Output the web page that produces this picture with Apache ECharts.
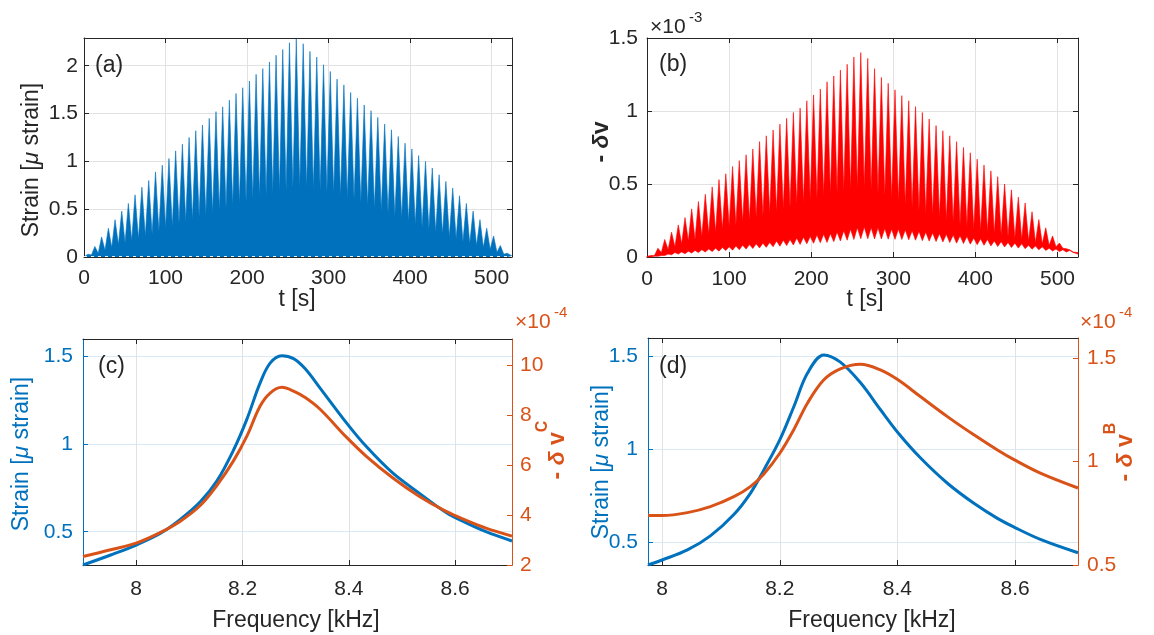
<!DOCTYPE html>
<html>
<head>
<meta charset="utf-8">
<script src="https://cdn.jsdelivr.net/npm/echarts@6/dist/echarts.min.js"></script>
<style>
  html, body { margin: 0; padding: 0; background: #ffffff; }
  #chart { width: 1154px; height: 635px; }
</style>
</head>
<body>
<div id="chart"></div>
<script>
// ---- data ----

// times of the strain / velocity pulses (s), shared by (a) and (b)
const tPeaks = [4.9, 13.3, 21.6, 29.9, 38.1, 46.3, 54.4, 62.6, 71.0, 79.4,
  87.7, 96.0, 104.2, 112.4, 120.7, 128.9, 137.1, 145.3, 153.6, 161.9,
  170.1, 178.3, 186.5, 194.7, 202.9, 211.1, 219.3, 227.5, 235.6, 243.8,
  252.0, 260.4, 268.9, 277.2, 285.5, 293.8, 302.1, 310.4, 318.8, 327.1,
  335.4, 343.7, 352.1, 360.4, 368.8, 377.1, 385.5, 393.8, 402.2, 410.5,
  418.9, 427.2, 435.6, 443.9, 452.3, 460.6, 469.0, 477.3, 485.7, 494.0,
  502.4, 510.7, 519.1];

// (a) strain peak heights and the level between two peaks [micro strain]
const aPeaks = [0.03, 0.11, 0.21, 0.30, 0.39, 0.48, 0.56, 0.65, 0.73, 0.80,
  0.89, 0.96, 1.03, 1.11, 1.18, 1.25, 1.32, 1.38, 1.45, 1.52,
  1.57, 1.64, 1.71, 1.77, 1.84, 1.91, 1.97, 2.04, 2.11, 2.17,
  2.24, 2.28, 2.23, 2.15, 2.09, 2.01, 1.94, 1.86, 1.80, 1.72,
  1.66, 1.59, 1.53, 1.46, 1.39, 1.33, 1.26, 1.19, 1.13, 1.06,
  1.00, 0.93, 0.86, 0.79, 0.72, 0.64, 0.56, 0.48, 0.39, 0.30,
  0.22, 0.12, 0.04];
const aTroughs = [0.02, 0.04, 0.07, 0.10, 0.13, 0.15, 0.17, 0.19, 0.22, 0.24,
  0.27, 0.30, 0.32, 0.35, 0.37, 0.39, 0.42, 0.44, 0.46, 0.49,
  0.51, 0.54, 0.56, 0.58, 0.61, 0.63, 0.65, 0.67, 0.69, 0.70,
  0.72, 0.73, 0.72, 0.71, 0.70, 0.68, 0.66, 0.64, 0.62, 0.60,
  0.57, 0.54, 0.51, 0.48, 0.46, 0.43, 0.40, 0.37, 0.34, 0.31,
  0.29, 0.26, 0.24, 0.21, 0.19, 0.16, 0.14, 0.12, 0.10, 0.08,
  0.05, 0.03];

// (b) -dv  (x 1e-3): top of band at peaks / between peaks, bottom of band at peaks / between peaks
const bPeaks = [0.01, 0.06, 0.12, 0.17, 0.22, 0.27, 0.33, 0.38, 0.43, 0.48,
  0.53, 0.57, 0.62, 0.66, 0.70, 0.74, 0.79, 0.83, 0.87, 0.91,
  0.95, 0.99, 1.02, 1.07, 1.11, 1.15, 1.20, 1.24, 1.28, 1.32,
  1.37, 1.40, 1.36, 1.29, 1.23, 1.19, 1.145, 1.105, 1.07, 1.03,
  0.99, 0.945, 0.90, 0.865, 0.83, 0.79, 0.75, 0.714, 0.67, 0.63,
  0.59, 0.55, 0.50, 0.46, 0.41, 0.37, 0.31, 0.256, 0.20, 0.144,
  0.096, 0.057, 0.034];
const bTroughs = [0.01, 0.03, 0.05, 0.07, 0.09, 0.11, 0.12, 0.14, 0.16, 0.17,
  0.19, 0.21, 0.22, 0.24, 0.25, 0.27, 0.28, 0.30, 0.31, 0.33,
  0.34, 0.36, 0.37, 0.39, 0.40, 0.42, 0.43, 0.44, 0.45, 0.46,
  0.47, 0.48, 0.46, 0.44, 0.42, 0.40, 0.38, 0.36, 0.34, 0.32,
  0.30, 0.29, 0.27, 0.25, 0.24, 0.22, 0.21, 0.19, 0.18, 0.17,
  0.16, 0.15, 0.14, 0.13, 0.12, 0.11, 0.10, 0.09, 0.08, 0.07,
  0.06, 0.05];
const bLowPeaks = [0.0, 0.005, 0.01, 0.015, 0.02, 0.023, 0.027, 0.03, 0.034, 0.037,
  0.04, 0.044, 0.047, 0.05, 0.054, 0.058, 0.062, 0.066, 0.07, 0.074,
  0.078, 0.082, 0.086, 0.09, 0.094, 0.098, 0.10, 0.105, 0.11, 0.115,
  0.12, 0.125, 0.125, 0.124, 0.123, 0.122, 0.121, 0.12, 0.118, 0.115,
  0.112, 0.109, 0.106, 0.103, 0.099, 0.095, 0.092, 0.088, 0.084, 0.08,
  0.076, 0.072, 0.068, 0.065, 0.061, 0.057, 0.053, 0.049, 0.045, 0.041,
  0.037, 0.034, 0.031];
const bLowMids = [0.005, 0.01, 0.02, 0.03, 0.035, 0.04, 0.045, 0.05, 0.055, 0.06,
  0.065, 0.07, 0.075, 0.08, 0.085, 0.09, 0.095, 0.10, 0.11, 0.115,
  0.12, 0.13, 0.135, 0.14, 0.15, 0.155, 0.16, 0.17, 0.18, 0.19,
  0.20, 0.205, 0.20, 0.20, 0.195, 0.19, 0.19, 0.185, 0.18, 0.175,
  0.17, 0.165, 0.16, 0.155, 0.15, 0.145, 0.14, 0.13, 0.125, 0.12,
  0.11, 0.105, 0.10, 0.095, 0.09, 0.08, 0.075, 0.07, 0.06, 0.055,
  0.05, 0.045];

// (c) frequency sweep, strain [micro strain] and -dv^C (x 1e-4)
const cFreq = [7.9, 7.952, 8.0, 8.046, 8.083, 8.121, 8.152, 8.183, 8.208, 8.233,
  8.252, 8.274, 8.296, 8.318, 8.346, 8.396, 8.433, 8.483, 8.533, 8.583,
  8.621, 8.658, 8.707];
const cStrain = [0.31, 0.367, 0.424, 0.491, 0.57, 0.672, 0.79, 0.965, 1.14, 1.348,
  1.462, 1.504, 1.488, 1.43, 1.32, 1.12, 0.986, 0.834, 0.719, 0.61,
  0.55, 0.5, 0.447];
const cNu = [2.34, 2.61, 2.88, 3.31, 3.76, 4.40, 5.20, 6.18, 7.16, 8.37,
  8.90, 9.13, 8.98, 8.72, 8.25, 7.12, 6.36, 5.49, 4.75, 4.15,
  3.79, 3.48, 3.16];

// (d) frequency sweep, strain [micro strain] and -dv^B (x 1e-4)
const dFreq = [7.976, 8.0, 8.043, 8.082, 8.122, 8.15, 8.173, 8.2, 8.224, 8.247,
  8.275, 8.303, 8.337, 8.371, 8.401, 8.439, 8.485, 8.53, 8.57, 8.599,
  8.643, 8.707];
const dStrain = [0.378, 0.405, 0.459, 0.535, 0.65, 0.764, 0.89, 1.051, 1.231, 1.41,
  1.509, 1.47, 1.36, 1.215, 1.09, 0.955, 0.818, 0.71, 0.629, 0.581,
  0.516, 0.444];
const dNu = [0.739, 0.739, 0.753, 0.782, 0.83, 0.879, 0.94, 1.04, 1.155, 1.282,
  1.395, 1.448, 1.47, 1.443, 1.395, 1.314, 1.217, 1.129, 1.056, 1.008,
  0.944, 0.872];

// tick labels
const tTicks = [0, 100, 200, 300, 400, 500];
const aStrainTicks = [0, 0.5, 1, 1.5, 2];
const bNuTicks = [0, 0.5, 1, 1.5];
const fTicks = [8, 8.2, 8.4, 8.6];
const cStrainTicks = [0.5, 1, 1.5];
const cNuTicks = [2, 4, 6, 8, 10];
const dStrainTicks = [0.5, 1, 1.5];
const dNuTicks = [0.5, 1, 1.5];

// ---- styling ----
const FONT = 'Liberation Sans, Arial, Helvetica, sans-serif';
const DARK = '#262626';
const BLUE = '#0072BD';
const ORANGE = '#D95319';
const RED = '#FF0000';
const GRID_GRAY = '#e2e2e2';
const GRID_BLUE = '#d9e9f5';

// pulse train: peak, then the level between this peak and the next one
function pulseLine(times, tops, mids, first, last) {
  const pts = [first];
  for (let k = 0; k < times.length; k++) {
    pts.push([times[k], tops[k]]);
    if (k < times.length - 1) {
      pts.push([(times[k] + times[k + 1]) / 2, mids[k]]);
    }
  }
  pts.push(last);
  return pts;
}

const aData = pulseLine(tPeaks, aPeaks, aTroughs, [0, 0], [525, 0.01]);
const bLower = pulseLine(tPeaks, bLowPeaks, bLowMids, [0, 0], [525, 0.02]);
const bUpper = pulseLine(tPeaks, bPeaks, bTroughs, [0, 0.005], [525, 0.03]);

function zip(xs, ys) {
  return xs.map((x, i) => [x, ys[i]]);
}

function xAxes(grid, min, max, ticks, margin) {
  return [
    {
      type: 'value', gridIndex: grid, min: min, max: max, position: 'bottom',
      axisLine: {show: true, onZero: false, lineStyle: {color: DARK, width: 1}},
      axisTick: {show: true, inside: true, length: 5, customValues: ticks, lineStyle: {color: DARK}},
      axisLabel: {customValues: ticks, color: DARK, fontSize: 21, fontFamily: FONT, margin: margin},
      splitLine: {show: true, lineStyle: {color: GRID_GRAY, width: 1}}
    },
    {
      type: 'value', gridIndex: grid, min: min, max: max, position: 'top',
      axisLine: {show: true, onZero: false, lineStyle: {color: DARK, width: 1}},
      axisTick: {show: true, inside: true, length: 5, customValues: ticks, lineStyle: {color: DARK}},
      axisLabel: {show: false},
      splitLine: {show: false}
    }
  ];
}

function yAxis(grid, pos, min, max, ticks, color, showLabel, gridColor, margin) {
  return {
    type: 'value', gridIndex: grid, min: min, max: max, position: pos,
    axisLine: {show: true, onZero: false, lineStyle: {color: color, width: 1}},
    axisTick: {show: true, inside: true, length: 5, customValues: ticks, lineStyle: {color: color}},
    axisLabel: {show: showLabel, customValues: ticks, color: color, fontSize: 21, fontFamily: FONT, margin: margin},
    splitLine: {show: !!gridColor, lineStyle: {color: gridColor || GRID_GRAY, width: 1}}
  };
}

function txt(x, y, text, opts) {
  return {
    type: 'text', x: x, y: y, rotation: opts.rotate ? Math.PI / 2 : 0, z: 100,
    style: Object.assign({
      text: text, fill: DARK, font: '23px ' + FONT,
      align: 'center', verticalAlign: 'middle'
    }, opts.style || {})
  };
}

function strainLabel(x, y, color) {
  return txt(x, y, '{n|Strain [}{m|μ}{n| strain]}', {
    rotate: true,
    style: {
      fill: color,
      rich: {
        n: {fontSize: 23, fontFamily: FONT, fill: color},
        m: {fontSize: 23, fontFamily: FONT, fontStyle: 'italic', fill: color}
      }
    }
  });
}

function nuLabel(x, y, sup, color) {
  return txt(x, y, '{n|- }{d|δ}{n| v}{s|' + sup + '}', {
    rotate: true,
    style: {
      fill: color,
      rich: {
        n: {fontSize: 23, fontFamily: FONT, fontWeight: 'bold', fill: color, lineHeight: 34, verticalAlign: 'bottom'},
        d: {fontSize: 23, fontFamily: FONT, fontWeight: 'bold', fontStyle: 'italic', fill: color, lineHeight: 34, verticalAlign: 'bottom'},
        s: {fontSize: 16, fontFamily: FONT, fontWeight: 'bold', fill: color, lineHeight: 18, verticalAlign: 'top'}
      }
    }
  });
}

function exponent(x, y, power, color) {
  return [
    txt(x, y, '×10', {style: {align: 'left', fill: color, font: '21px ' + FONT}}),
    txt(x + 39, y - 9, power, {style: {align: 'left', fill: color, font: '15px ' + FONT}})
  ];
}

const myChart = echarts.init(document.getElementById('chart'));

myChart.setOption({
  animation: false,
  backgroundColor: '#ffffff',
  textStyle: {fontFamily: FONT},
  grid: [
    {left: 84, top: 38, width: 428, height: 219},
    {left: 647, top: 38, width: 431, height: 219},
    {left: 83, top: 339, width: 429, height: 226},
    {left: 648, top: 338, width: 430, height: 227}
  ],
  xAxis: [].concat(
    xAxes(0, 0, 525, tTicks, 11),
    xAxes(1, 0, 525, tTicks, 12),
    xAxes(2, 7.9, 8.707, fTicks, 14),
    xAxes(3, 7.976, 8.707, fTicks, 14)
  ),
  yAxis: [
    yAxis(0, 'left', 0, 2.29, aStrainTicks, DARK, true, GRID_GRAY, 6),
    yAxis(0, 'right', 0, 2.29, aStrainTicks, DARK, false, null, 8),
    yAxis(1, 'left', 0, 1.5, bNuTicks, DARK, true, GRID_GRAY, 9),
    yAxis(1, 'right', 0, 1.5, bNuTicks, DARK, false, null, 8),
    yAxis(2, 'left', 0.31, 1.6, cStrainTicks, BLUE, true, GRID_BLUE, 10),
    yAxis(2, 'right', 2, 11.07, cNuTicks, ORANGE, true, null, 8),
    yAxis(3, 'left', 0.378, 1.6, dStrainTicks, BLUE, true, GRID_BLUE, 10),
    yAxis(3, 'right', 0.5, 1.597, dNuTicks, ORANGE, true, null, 9)
  ],
  series: [
    {
      // (a) strain vs time
      type: 'line', xAxisIndex: 0, yAxisIndex: 0, data: aData,
      showSymbol: false, silent: true,
      lineStyle: {color: BLUE, width: 0.6},
      itemStyle: {color: BLUE},
      areaStyle: {color: BLUE, opacity: 1},
      markLine: {
        silent: true, symbol: 'none', label: {show: false},
        lineStyle: {color: '#ffffff', type: [3, 4], width: 1.2, opacity: 0.9},
        data: [{yAxis: 0.013}]
      }
    },
    {
      // (b) band between the lower and the upper edge, one polygon
      type: 'custom', xAxisIndex: 2, yAxisIndex: 2, coordinateSystem: 'cartesian2d',
      data: [[0, 0]], silent: true,
      renderItem: function (params, api) {
        const pts = bUpper.map(p => api.coord(p))
          .concat(bLower.slice().reverse().map(p => api.coord(p)));
        return {
          type: 'polygon',
          shape: {points: pts},
          style: {fill: RED, stroke: RED, lineWidth: 0.6}
        };
      }
    },
    {
      type: 'line', xAxisIndex: 4, yAxisIndex: 4, data: zip(cFreq, cStrain),
      smooth: 0.35, showSymbol: false, silent: true,
      lineStyle: {color: BLUE, width: 3}, itemStyle: {color: BLUE}
    },
    {
      type: 'line', xAxisIndex: 4, yAxisIndex: 5, data: zip(cFreq, cNu),
      smooth: 0.35, showSymbol: false, silent: true,
      lineStyle: {color: ORANGE, width: 3}, itemStyle: {color: ORANGE}
    },
    {
      type: 'line', xAxisIndex: 6, yAxisIndex: 6, data: zip(dFreq, dStrain),
      smooth: 0.35, showSymbol: false, silent: true,
      lineStyle: {color: BLUE, width: 3}, itemStyle: {color: BLUE}
    },
    {
      type: 'line', xAxisIndex: 6, yAxisIndex: 7, data: zip(dFreq, dNu),
      smooth: 0.35, showSymbol: false, silent: true,
      lineStyle: {color: ORANGE, width: 3}, itemStyle: {color: ORANGE}
    }
  ],
  graphic: [].concat(
    [
      strainLabel(32, 160, DARK),
      txt(297, 300, 't [s]', {}),
      txt(95, 66, '(a)', {style: {align: 'left'}}),

      txt(602, 142, '{n|- }{d|δ}{n|v}', {
        rotate: true,
        style: {
          rich: {
            n: {fontSize: 23, fontFamily: FONT, fontWeight: 'bold', fill: DARK},
            d: {fontSize: 23, fontFamily: FONT, fontWeight: 'bold', fontStyle: 'italic', fill: DARK}
          }
        }
      }),
      txt(865, 300, 't [s]', {}),
      txt(659, 65, '(b)', {style: {align: 'left'}}),

      strainLabel(22, 454, BLUE),
      nuLabel(552, 450, 'C', ORANGE),
      txt(296, 621, 'Frequency [kHz]', {}),
      txt(98, 367, '(c)', {style: {align: 'left'}}),

      strainLabel(602, 462, BLUE),
      nuLabel(1120, 452, 'B', ORANGE),
      txt(872, 621, 'Frequency [kHz]', {}),
      txt(659, 367, '(d)', {style: {align: 'left'}})
    ],
    exponent(650, 27, '-3', DARK),
    exponent(515, 322, '-4', ORANGE),
    exponent(1080, 322, '-4', ORANGE)
  )
});
</script>
</body>
</html>
